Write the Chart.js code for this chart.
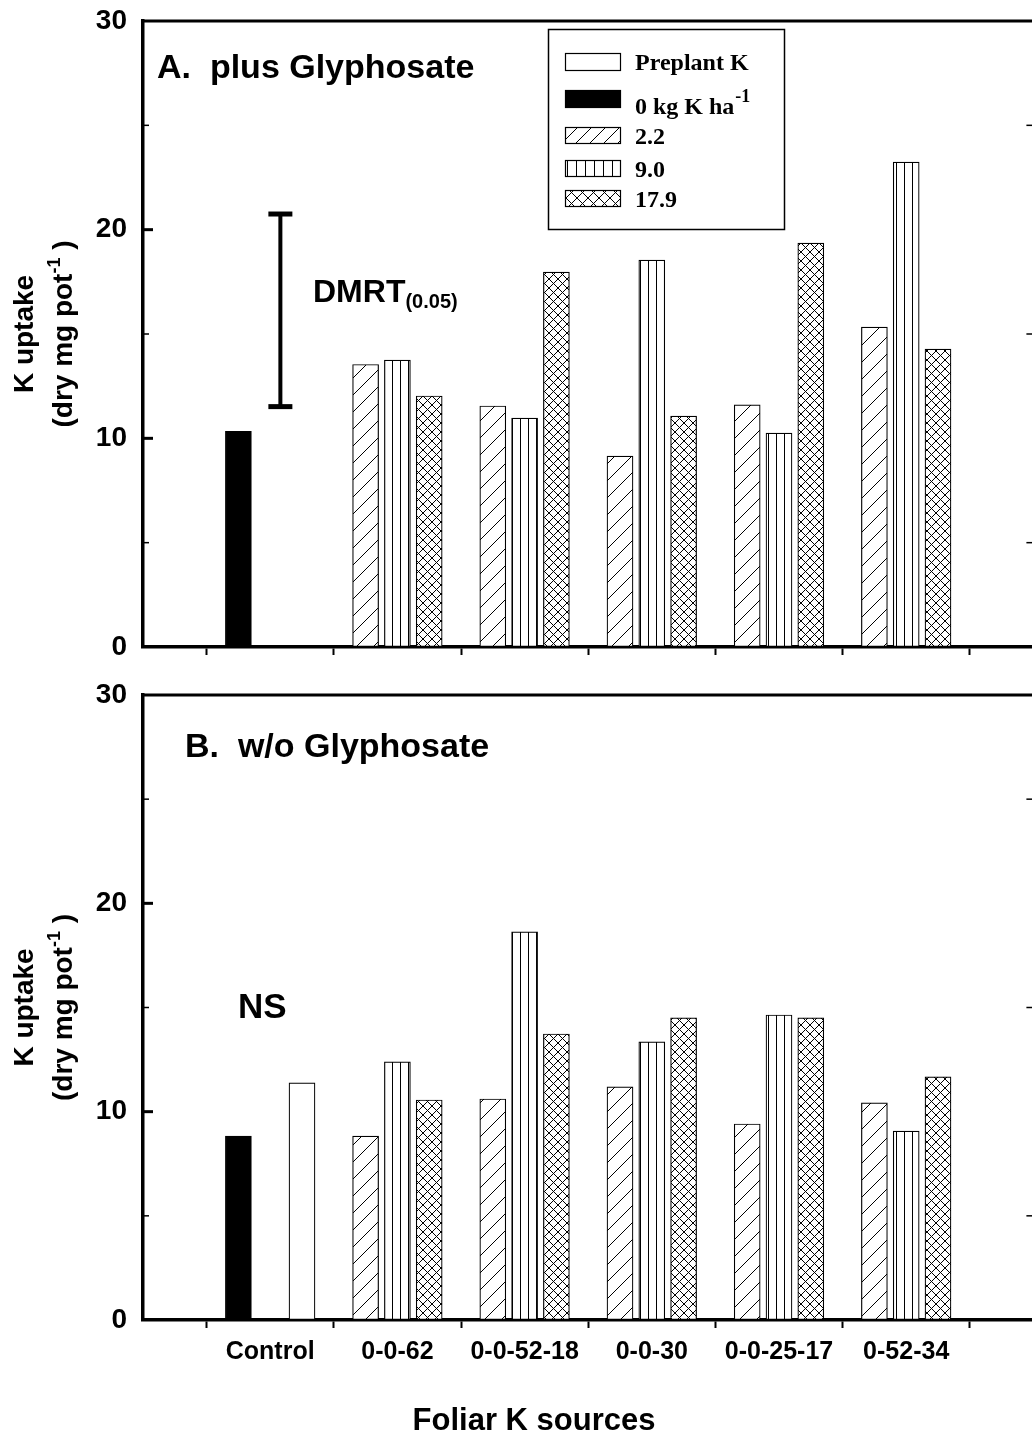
<!DOCTYPE html>
<html><head><meta charset="utf-8">
<script src="https://cdn.jsdelivr.net/npm/chart.js@4/dist/chart.umd.min.js"></script>
<style>
html,body{margin:0;padding:0;background:#fff;overflow:hidden;width:1032px;height:1435px;position:relative;}
canvas{position:absolute;left:0;}
#cA{top:0;} #cB{top:665px;}
</style></head><body>
<canvas id="cA" width="1046" height="665"></canvas>
<canvas id="cB" width="1046" height="770"></canvas>
<script>
// ---------- data ----------
const categories = ['Control', '0-0-62', '0-0-52-18', '0-0-30', '0-0-25-17', '0-52-34'];
const legendLabels = ['Preplant K', '0 kg K ha', '2.2', '9.0', '17.9'];
const yTickValues = [0, 10, 20, 30];

// Panel A: plus Glyphosate (Control group has only the 0 kg bar)
const A_zeroK    = [10.33];
const A_preplant = [null];
const A_k22      = [13.54, 11.55, 9.15, 11.60, 15.33];
const A_k90      = [13.75, 10.97, 18.54, 10.25, 23.24];
const A_k179     = [12.03, 17.97, 11.07, 19.36, 14.28];
const A_dmrt     = [11.52, 20.75];

// Panel B: w/o Glyphosate
const B_zeroK    = [8.83];
const B_preplant = [11.38];
const B_k22      = [8.83, 10.61, 11.19, 9.41, 10.42];
const B_k90      = [12.39, 18.63, 13.35, 14.64, 9.07];
const B_k179     = [10.56, 13.73, 14.50, 14.50, 11.67];

// ---------- layout constants (not data) ----------
const SLOT = {zeroK: -0.25, preplant: 0.25, k22: -0.25, k90: 0, k179: 0.25};
const DMRT_X = 1.08;
const CANVAS_W = 1046, PLOT_RIGHT = 1033.4;
const SANS = '"Liberation Sans", Arial, sans-serif';
const SERIF = '"Liberation Serif", "Times New Roman", serif';

function pts(vals, firstGroup, off) {
  return vals.map((v, i) => ({x: firstGroup + i + 1 + off, y: v}));
}

function makePattern(ctx, kind, s, tx, ty) {
  const c = document.createElement('canvas');
  c.width = s; c.height = s;
  const g = c.getContext('2d');
  g.fillStyle = '#fff'; g.fillRect(0, 0, s, s);
  g.strokeStyle = '#000'; g.lineWidth = 1;
  g.beginPath();
  if (kind === 'vert') { g.moveTo(0.5, 0); g.lineTo(0.5, s); }
  if (kind === 'diag' || kind === 'cross') { g.moveTo(-1, s + 1); g.lineTo(s + 1, -1); }
  if (kind === 'cross') { g.moveTo(-1, -1); g.lineTo(s + 1, s + 1); }
  g.stroke();
  const p = ctx.createPattern(c, 'repeat');
  if (tx !== undefined && p.setTransform) p.setTransform(new DOMMatrix([1, 0, 0, 1, tx, ty || 0]));
  return p;
}

function line(ctx, x1, y1, x2, y2) { ctx.beginPath(); ctx.moveTo(x1, y1); ctx.lineTo(x2, y2); ctx.stroke(); }

function drawYTitle(ctx, cy) {
  ctx.save();
  ctx.translate(0, cy);
  ctx.rotate(-Math.PI / 2);
  ctx.fillStyle = '#000';
  ctx.textBaseline = 'alphabetic';
  ctx.textAlign = 'center';
  ctx.font = 'bold 28px ' + SANS;
  ctx.fillText('K uptake', 0, 33);
  const big = 'bold 28px ' + SANS, small = 'bold 18px ' + SANS;
  ctx.font = big; const w1 = ctx.measureText('(dry mg pot').width;
  ctx.font = small; const w2 = ctx.measureText('-1').width;
  ctx.font = big; const w3 = ctx.measureText(' )').width;
  let x0 = -(w1 + w2 + w3) / 2;
  ctx.textAlign = 'left';
  ctx.font = big; ctx.fillText('(dry mg pot', x0, 72);
  ctx.font = small; ctx.fillText('-1', x0 + w1, 60);
  ctx.font = big; ctx.fillText(' )', x0 + w1 + w2, 72);
  ctx.restore();
}

const panelPlugin = {
  id: 'panel',
  afterDraw(chart, args, o) {
    const ctx = chart.ctx, ca = chart.chartArea, ys = chart.scales.y, xs = chart.scales.x;
    const oy = o.offsetY;
    ctx.save();
    ctx.strokeStyle = '#000'; ctx.fillStyle = '#000';
    // top frame line
    ctx.lineWidth = 3;
    line(ctx, ca.left - 1.5, ca.top, chart.width, ca.top);
    // inward y ticks (major on left, minor on both sides)
    for (let v = 5; v < 30; v += 5) {
      const py = ys.getPixelForValue(v);
      if (v % 10 === 0) { ctx.lineWidth = 3; line(ctx, ca.left, py, ca.left + 10, py); }
      else {
        ctx.lineWidth = 1.5;
        line(ctx, ca.left, py, ca.left + 6, py);
        line(ctx, ca.right - 7, py, ca.right, py);
      }
    }
    // panel title
    ctx.font = 'bold 34px ' + SANS; ctx.textAlign = 'left'; ctx.textBaseline = 'alphabetic';
    ctx.fillText(o.title, o.titleX, o.titleY - oy);
    // y title
    drawYTitle(ctx, (ca.top + ca.bottom) / 2);

    if (o.dmrt) {
      const px = xs.getPixelForValue(DMRT_X);
      const y1 = ys.getPixelForValue(o.dmrt[0]), y2 = ys.getPixelForValue(o.dmrt[1]);
      ctx.lineWidth = 4;
      line(ctx, px, y1, px, y2);
      ctx.lineWidth = 5;
      line(ctx, px - 12, y1, px + 12, y1);
      line(ctx, px - 12, y2, px + 12, y2);
      ctx.font = 'bold 32px ' + SANS;
      ctx.fillText('DMRT', 313, 302 - oy);
      const w = ctx.measureText('DMRT').width;
      ctx.font = 'bold 20px ' + SANS;
      ctx.fillText('(0.05)', 313 + w, 308 - oy);
    }
    if (o.ns) {
      ctx.font = 'bold 35px ' + SANS;
      ctx.fillText('NS', 238, 1018 - oy);
    }
    if (o.xTitle) {
      ctx.font = 'bold 31px ' + SANS; ctx.textAlign = 'center';
      ctx.fillText('Foliar K sources', 534, 1430 - oy);
    }
    if (o.legend) {
      const L = o.pats;
      ctx.lineWidth = 1.5;
      ctx.strokeRect(548.5, 29.5 - oy, 236, 200);
      const sw = [
        {y0: 53, y1: 71, fill: '#fff', text: legendLabels[0], tb: 70},
        {y0: 90, y1: 108, fill: '#000', text: legendLabels[1], tb: 114, sup: '-1'},
        {y0: 127, y1: 144, fill: L.diag, text: legendLabels[2], tb: 144},
        {y0: 160, y1: 177, fill: L.vert, text: legendLabels[3], tb: 177},
        {y0: 190, y1: 207, fill: L.cross, text: legendLabels[4], tb: 207}
      ];
      ctx.textAlign = 'left';
      sw.forEach(s => {
        ctx.fillStyle = s.fill;
        ctx.fillRect(565, s.y0 - oy, 56, s.y1 - s.y0);
        ctx.lineWidth = 1.2; ctx.strokeStyle = '#000';
        ctx.strokeRect(565.5, s.y0 - oy + 0.5, 55, s.y1 - s.y0 - 1);
        ctx.fillStyle = '#000';
        ctx.font = 'bold 24px ' + SERIF;
        ctx.fillText(s.text, 635, s.tb - oy);
        if (s.sup) {
          const w = ctx.measureText(s.text).width;
          ctx.font = 'bold 18px ' + SERIF;
          ctx.fillText(s.sup, 635 + w + 1, s.tb - 12 - oy);
        }
      });
    }
    ctx.restore();
  }
};

function makeChart(id, d, opt) {
  const canvas = document.getElementById(id);
  const ctx = canvas.getContext('2d');
  const pDiag = makePattern(ctx, 'diag', 17);
  const pVert = makePattern(ctx, 'vert', 8);
  const pCross = makePattern(ctx, 'cross', 9);
  const legendPats = {
    diag: makePattern(ctx, 'diag', 14, 565, 0),
    vert: makePattern(ctx, 'vert', 9, 567, 0),
    cross: makePattern(ctx, 'cross', 11, 566, 0)
  };
  const base = {grouped: false, barThickness: 26, borderWidth: 1.2, borderColor: '#000', borderSkipped: false};
  const datasets = [
    {label: legendLabels[1], data: pts(d.zeroK, 0, SLOT.zeroK), backgroundColor: '#000'},
    {label: legendLabels[0], data: pts(d.preplant, 0, SLOT.preplant), backgroundColor: '#fff'},
    {label: legendLabels[2], data: pts(d.k22, 1, SLOT.k22), backgroundColor: pDiag},
    {label: legendLabels[3], data: pts(d.k90, 1, SLOT.k90), backgroundColor: pVert},
    {label: legendLabels[4], data: pts(d.k179, 1, SLOT.k179), backgroundColor: pCross}
  ].map(s => Object.assign({}, base, s));

  return new Chart(ctx, {
    type: 'bar',
    data: {datasets},
    options: {
      responsive: false, animation: false, devicePixelRatio: 1,
      layout: {padding: {left: 0, right: CANVAS_W - PLOT_RIGHT, top: opt.top, bottom: 0}},
      plugins: {
        legend: {display: false}, tooltip: {enabled: false},
        panel: Object.assign({pats: legendPats}, opt.panel)
      },
      scales: {
        x: {
          type: 'linear', min: 0, max: 7, offset: false,
          grid: {
            offset: false, drawOnChartArea: false, drawTicks: true, tickLength: 8, tickWidth: 2,
            tickColor: c => (c.tick && Math.abs((c.tick.value % 1) - 0.5) < 1e-6) ? '#000' : 'rgba(0,0,0,0)'
          },
          border: {display: true, color: '#000', width: 3.5},
          ticks: {
            stepSize: 0.5, autoSkip: false, maxRotation: 0, minRotation: 0, padding: 9, color: '#000',
            font: {family: SANS, size: 25, weight: 'bold'},
            callback: v => {
              if (!opt.xLabels) return '';
              const r = Math.round(v);
              return (Math.abs(v - r) < 1e-6 && r >= 1 && r <= categories.length) ? categories[r - 1] : '';
            }
          },
          afterFit: a => { a.height = opt.xh; }
        },
        y: {
          min: 0, max: 30,
          grid: {drawOnChartArea: false, drawTicks: true, tickLength: 16, tickColor: 'rgba(0,0,0,0)'},
          border: {display: true, color: '#000', width: 3.5},
          afterBuildTicks: a => { a.ticks = yTickValues.map(v => ({value: v})); },
          ticks: {padding: 0, color: '#000', font: {family: SANS, size: 28, weight: 'bold'}},
          afterFit: a => { a.width = 143; }
        }
      }
    },
    plugins: [panelPlugin]
  });
}

makeChart('cA',
  {zeroK: A_zeroK, preplant: A_preplant, k22: A_k22, k90: A_k90, k179: A_k179},
  {top: 21, xh: 18, xLabels: false,
   panel: {offsetY: 0, title: 'A.  plus Glyphosate', titleX: 157, titleY: 78, legend: true, dmrt: A_dmrt}});

makeChart('cB',
  {zeroK: B_zeroK, preplant: B_preplant, k22: B_k22, k90: B_k90, k179: B_k179},
  {top: 30, xh: 115, xLabels: true,
   panel: {offsetY: 665, title: 'B.  w/o Glyphosate', titleX: 185, titleY: 757, ns: true, xTitle: true}});
</script>
</body></html>
